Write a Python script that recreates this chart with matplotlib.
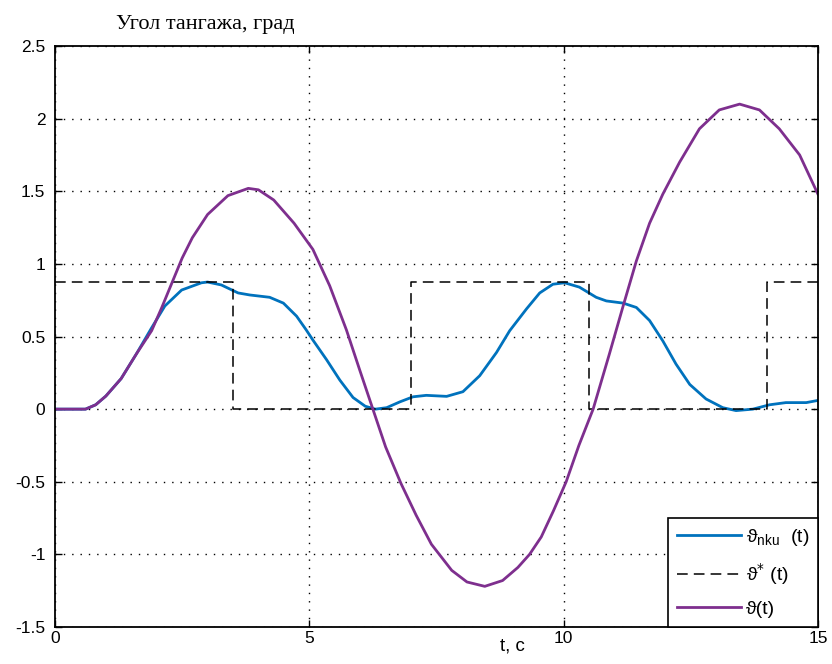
import matplotlib
matplotlib.use("Agg")
import matplotlib.pyplot as plt

# pitch angle, deg
t_pitch = [0, 0.6, 0.8, 1.0, 1.3, 1.6, 1.9, 2.1, 2.3, 2.5, 2.7, 3.0, 3.4, 3.8, 4.0,
           4.3, 4.7, 5.07, 5.4, 5.73, 6.0, 6.25, 6.5, 6.8, 7.1, 7.4, 7.8, 8.1, 8.45,
           8.8, 9.1, 9.33, 9.56, 9.8, 10.05, 10.3, 10.58, 10.9, 11.17, 11.43, 11.69,
           11.95, 12.28, 12.67, 13.06, 13.46, 13.85, 14.24, 14.64, 15.0]
pitch = [0, 0, 0.03, 0.09, 0.21, 0.38, 0.54, 0.70, 0.87, 1.04, 1.18, 1.34, 1.47, 1.52, 1.51,
         1.44, 1.28, 1.10, 0.85, 0.545, 0.26, 0.0, -0.26, -0.51, -0.73, -0.93, -1.11, -1.19, -1.22,
         -1.18, -1.09, -1.0, -0.88, -0.70, -0.5, -0.25, 0.0, 0.38, 0.71, 1.02, 1.28,
         1.48, 1.70, 1.93, 2.06, 2.10, 2.06, 1.93, 1.75, 1.48]

t_nku = [0, 0.6, 0.8, 1.0, 1.3, 1.6, 1.9, 2.16, 2.49, 2.88, 3.0, 3.27, 3.6, 3.83, 4.22,
         4.49, 4.75, 4.94, 5.07, 5.34, 5.6, 5.86, 6.1, 6.3, 6.52, 6.78, 7.04, 7.3, 7.7,
         8.02, 8.35, 8.68, 8.94, 9.27, 9.53, 9.79, 10.02, 10.31, 10.64, 10.84, 11.17,
         11.43, 11.69, 11.95, 12.21, 12.48, 12.8, 13.13, 13.39, 13.72, 14.05, 14.37, 14.77, 15.0]
nku = [0, 0, 0.03, 0.09, 0.21, 0.38, 0.56, 0.71, 0.82, 0.87, 0.875, 0.855, 0.80, 0.786, 0.77,
       0.73, 0.64, 0.545, 0.476, 0.34, 0.2, 0.08, 0.02, 0.0, 0.01, 0.05, 0.085, 0.095, 0.088,
       0.12, 0.23, 0.39, 0.54, 0.69, 0.80, 0.86, 0.87, 0.84, 0.77, 0.745, 0.73,
       0.70, 0.61, 0.47, 0.31, 0.17, 0.07, 0.01, -0.01, 0.0, 0.03, 0.045, 0.045, 0.06]

# program signal (square wave)
t_prog = [0, 3.5, 7.0, 10.5, 14.0, 15.0]
prog = [0.875, 0, 0.875, 0, 0.875, 0.875]

yticks = [-1.5, -1, -0.5, 0, 0.5, 1, 1.5, 2, 2.5]
ytick_labels = ["-1.5", "-1", "-0.5", "0", "0.5", "1", "1.5", "2", "2.5"]
xticks = [0, 5, 10, 15]
xtick_labels = ["0", "5", "10", "15"]

plt.rcParams['font.family'] = ['Liberation Sans', 'DejaVu Sans']

fig = plt.figure(figsize=(8.32, 6.64), dpi=100)
ax = fig.add_axes([0.0661, 0.0557, 0.917, 0.875])

ax.plot(t_nku, nku, color="#0072BD", lw=2.0, label="ϑ$_{\\mathregular{nku}}$  (t)")
ax.step(t_prog, prog, where="post", color="black", lw=1.1, linestyle=(0, (7, 4)),
        label="ϑ$^{*}$ (t)")
ax.plot(t_pitch, pitch, color="#7E2F8E", lw=2.0, label="ϑ(t)")

ax.set_xlim(0, 15)
ax.set_ylim(-1.5, 2.5)
ax.set_xticks(xticks)
ax.set_xticklabels(xtick_labels)
ax.set_yticks(yticks)
ax.set_yticklabels(ytick_labels)
ax.tick_params(direction="in", length=5, width=1, top=True, right=True,
               labelsize=12.5, pad=3)
ax.tick_params(axis="y", pad=7)
ax.grid(True, color="black", linestyle=(0, (1, 5)), lw=1.0)
for s in ax.spines.values():
    s.set_linewidth(1.3)

ax.text(0.08, 1.02, "Угол тангажа, град", transform=ax.transAxes,
        fontsize=16, family="Liberation Serif", va="bottom", ha="left")
ax.text(0.6, -0.018, "t, c", transform=ax.transAxes, fontsize=13.5,
        ha="center", va="top")

leg = ax.legend(loc="lower right", fontsize=14, borderaxespad=0, fancybox=False,
                edgecolor="black", framealpha=1, handlelength=3.3,
                handletextpad=0.25, labelspacing=0.7, borderpad=0.45)
leg.get_frame().set_linewidth(1.2)

fig.savefig("out.png", dpi=100, facecolor="white")
